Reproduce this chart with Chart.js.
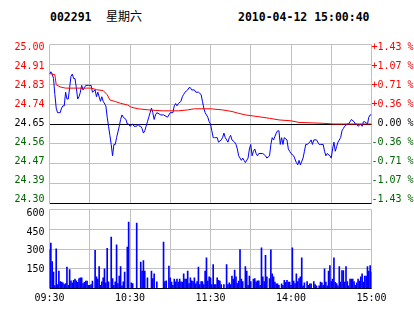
<!DOCTYPE html>
<html lang="zh">
<head>
<meta charset="UTF-8" />
<title>002291 分时走势</title>
<script src="https://cdn.jsdelivr.net/npm/chart.js"></script>
<style>
  html, body { margin: 0; padding: 0; background: #fff; }
  #wrap { position: relative; width: 414px; height: 314px; overflow: hidden; background: #fff; }
  .hd { position: absolute; top: 11px; font: bold 11.5px 'DejaVu Sans Mono', monospace; line-height: 12px; color: #000; white-space: pre; }
  .cn { position: absolute; top: 10px; left: 106px; font: 12px 'Noto Sans CJK SC', sans-serif; line-height: 12px; color: #000; }
  canvas { position: absolute; left: 0; }
</style>
</head>
<body>
<div id="wrap">
  <div class="hd" style="left:50px">002291</div>
  <div class="cn">星期六</div>
  <div class="hd" style="left:238px">2010-04-12 15:00:40</div>
  <canvas id="priceChart" width="414" height="190" style="top:25px"></canvas>
  <canvas id="volChart" width="414" height="119" style="top:195px"></canvas>
</div>

<script>
  // 分钟序号：0 = 09:30，120 = 11:30/13:00，240 = 15:00
  const gridMinutes = [0, 30, 60, 90, 120, 150, 180, 210, 240];
  const timeLabels = ['09:30', '', '10:30', '', '11:30', '', '14:00', '', '15:00'];

  const prevClose = 24.65;
  const priceLevels = [24.30, 24.3875, 24.475, 24.5625, 24.65, 24.7375, 24.825, 24.9125, 25.00];
  const priceLabels = ['24.30', '24.39', '24.47', '24.56', '24.65', '24.74', '24.83', '24.91', '25.00'];
  const pctLabels = ['-1.43 %', '-1.07 %', '-0.71 %', '-0.36 %', ' 0.00 %', '+0.36 %', '+0.71 %', '+1.07 %', '+1.43 %'];

  const volLevels = [0, 150, 300, 450, 600];
  const volLabelLevels = [150, 300, 450, 600];
  const volLabels = ['150', '300', '450', '600'];

  // 成交价
  const priceMinutes = [0, 1, 2, 3, 4, 5, 6, 7, 8, 9, 10, 11, 12, 13, 14, 15, 16, 17, 18, 19,
    20, 21, 22, 23, 24, 25, 26, 27, 29, 31, 32, 34, 35, 36, 38, 39, 40, 42, 43, 44,
    45, 46, 47, 48, 49, 50, 52, 53, 54, 55, 57, 58, 59, 60, 62, 63, 65, 66, 67, 68,
    69, 70, 71, 72, 73, 74, 75, 76, 77, 78, 79, 80, 83, 85, 88, 89, 90, 92, 93, 94,
    95, 96, 98, 99, 100, 101, 103, 104, 105, 106, 108, 109, 111, 113, 114, 115, 116, 118, 119, 120,
    121, 122, 123, 124, 125, 126, 128, 129, 130, 131, 133, 134, 135, 136, 138, 139, 140, 141, 143, 144,
    145, 146, 148, 149, 150, 151, 152, 153, 154, 155, 156, 159, 161, 162, 164, 165, 166, 167, 169, 170,
    171, 172, 173, 174, 175, 177, 178, 179, 180, 182, 184, 185, 186, 187, 189, 190, 191, 192, 194, 195,
    196, 197, 199, 200, 201, 202, 204, 205, 206, 207, 209, 210, 211, 212, 213, 214, 215, 217, 218, 219,
    220, 222, 223, 224, 225, 227, 228, 229, 230, 232, 233, 234, 235, 237, 238, 239, 240];
  const priceValues = [24.87, 24.88, 24.87, 24.85, 24.78, 24.72, 24.70, 24.70, 24.70, 24.72, 24.73, 24.73, 24.79, 24.76, 24.76, 24.81, 24.86, 24.87, 24.85, 24.85,
    24.81, 24.76, 24.77, 24.79, 24.82, 24.80, 24.81, 24.82, 24.82, 24.82, 24.79, 24.80, 24.77, 24.79, 24.75, 24.77, 24.75, 24.73, 24.68, 24.64,
    24.60, 24.56, 24.51, 24.56, 24.56, 24.59, 24.64, 24.67, 24.69, 24.68, 24.67, 24.65, 24.65, 24.64, 24.65, 24.64, 24.64, 24.65, 24.64, 24.64,
    24.63, 24.61, 24.62, 24.64, 24.66, 24.68, 24.70, 24.72, 24.70, 24.67, 24.69, 24.70, 24.69, 24.69, 24.68, 24.69, 24.70, 24.70, 24.73, 24.74,
    24.73, 24.74, 24.75, 24.77, 24.78, 24.79, 24.80, 24.81, 24.81, 24.80, 24.80, 24.79, 24.79, 24.78, 24.75, 24.72, 24.70, 24.68, 24.66, 24.65,
    24.62, 24.59, 24.59, 24.59, 24.59, 24.57, 24.58, 24.59, 24.61, 24.59, 24.57, 24.59, 24.60, 24.58, 24.57, 24.56, 24.54, 24.51, 24.49, 24.50,
    24.49, 24.48, 24.50, 24.54, 24.56, 24.51, 24.53, 24.54, 24.52, 24.51, 24.52, 24.52, 24.51, 24.50, 24.51, 24.56, 24.59, 24.58, 24.61, 24.62,
    24.62, 24.56, 24.59, 24.56, 24.59, 24.58, 24.54, 24.53, 24.52, 24.51, 24.48, 24.47, 24.49, 24.47, 24.50, 24.53, 24.56, 24.56, 24.57, 24.58,
    24.56, 24.58, 24.58, 24.57, 24.56, 24.56, 24.56, 24.53, 24.51, 24.52, 24.51, 24.50, 24.54, 24.57, 24.53, 24.55, 24.57, 24.59, 24.62, 24.63,
    24.64, 24.65, 24.65, 24.66, 24.67, 24.66, 24.65, 24.65, 24.64, 24.65, 24.64, 24.66, 24.66, 24.65, 24.68, 24.69, 24.69];

  // 均价
  const avgMinutes = [0, 4, 5, 8, 12, 31, 35, 40, 43, 45, 49, 53, 58, 61, 66, 74, 84, 96, 103, 108,
    120, 129, 136, 141, 146, 156, 164, 171, 180, 186, 204, 212, 240];
  const avgValues = [24.872, 24.867, 24.823, 24.813, 24.808, 24.808, 24.801, 24.797, 24.779, 24.756, 24.749, 24.741, 24.734, 24.724, 24.717, 24.712, 24.708, 24.708, 24.712, 24.717,
    24.717, 24.712, 24.705, 24.697, 24.690, 24.682, 24.675, 24.668, 24.664, 24.657, 24.653, 24.650, 24.650];

  // 成交量（手）
  const volMinutes = [0, 1, 2, 3, 4, 5, 6, 7, 8, 9, 10, 11, 12, 13, 14, 15, 16, 17, 18, 19,
    20, 21, 22, 23, 24, 25, 26, 27, 28, 29, 30, 31, 32, 34, 35, 36, 37, 38, 39, 40,
    41, 42, 43, 44, 46, 47, 48, 49, 50, 51, 52, 53, 54, 55, 56, 58, 59, 61, 62, 65,
    68, 69, 70, 71, 73, 76, 77, 78, 80, 85, 86, 87, 89, 90, 91, 92, 93, 94, 95, 96,
    97, 98, 99, 100, 101, 102, 103, 104, 105, 106, 107, 108, 109, 110, 111, 112, 113, 114, 115, 116,
    117, 118, 119, 120, 121, 122, 123, 124, 125, 126, 127, 128, 130, 132, 133, 134, 135, 136, 137, 138,
    139, 140, 141, 142, 143, 144, 146, 147, 148, 149, 150, 152, 153, 154, 155, 156, 157, 158, 159, 160,
    161, 162, 164, 165, 166, 167, 168, 169, 170, 171, 173, 174, 175, 176, 177, 178, 179, 180, 181, 182,
    183, 184, 185, 186, 187, 188, 189, 190, 192, 193, 194, 195, 197, 198, 199, 201, 202, 203, 204, 205,
    206, 207, 208, 209, 210, 211, 212, 213, 214, 215, 216, 217, 218, 219, 220, 221, 222, 223, 224, 225,
    226, 227, 228, 229, 230, 231, 232, 233, 234, 235, 236, 237, 238, 239, 240];
  const volValues = [296, 345, 205, 124, 23, 301, 30, 132, 53, 48, 43, 30, 38, 162, 25, 144, 58, 43, 63, 71,
    58, 46, 76, 81, 81, 38, 46, 56, 56, 25, 25, 30, 56, 289, 89, 71, 167, 25, 51, 81,
    149, 43, 306, 51, 390, 76, 25, 51, 331, 38, 94, 167, 20, 51, 124, 314, 504, 43, 38, 496,
    200, 132, 213, 132, 81, 132, 76, 112, 51, 352, 53, 58, 170, 81, 48, 25, 71, 51, 71, 48,
    71, 51, 48, 112, 71, 71, 132, 38, 81, 58, 53, 81, 35, 53, 162, 30, 53, 53, 30, 132,
    233, 56, 89, 81, 30, 182, 30, 30, 81, 63, 56, 30, 30, 182, 30, 43, 30, 94, 71, 140,
    89, 38, 56, 296, 71, 53, 167, 132, 25, 94, 53, 71, 76, 51, 58, 58, 25, 309, 89, 53,
    251, 89, 76, 294, 112, 89, 48, 35, 35, 25, 35, 25, 63, 46, 63, 48, 48, 25, 309, 56,
    38, 112, 53, 76, 89, 233, 20, 43, 53, 25, 35, 35, 53, 30, 20, 20, 48, 43, 25, 149,
    48, 20, 132, 175, 53, 71, 233, 46, 38, 20, 167, 48, 137, 137, 48, 167, 53, 20, 71, 71,
    71, 53, 25, 43, 71, 56, 89, 112, 48, 94, 94, 167, 132, 175, 124];

  const GRID = '#c0c0c0';
  const RED = '#ff0000';
  const GREEN = '#006600';
  const BLUE = '#0000ff';

  Chart.defaults.font.family = "'DejaVu Sans Mono', monospace";
  Chart.defaults.font.size = 10;
  Chart.defaults.color = '#000';

  const setTicks = list => scale => { scale.ticks = list.map(v => ({ value: v })); };
  const near = (a, b) => Math.abs(a - b) < 1e-6;
  const levelColor = v => near(v, prevClose) ? '#000' : (v > prevClose ? RED : GREEN);

  // 标签轴比网格轴略收窄，与原图刻度文字位置一致
  const labelMin = 24.2806, labelMax = 25.0148;

  new Chart(document.getElementById('priceChart'), {
    type: 'line',
    data: {
      datasets: [
        {
          data: avgMinutes.map((m, i) => ({ x: m, y: avgValues[i] })),
          borderColor: RED, borderWidth: 1, pointRadius: 0, tension: 0
        },
        {
          data: priceMinutes.map((m, i) => ({ x: m, y: priceValues[i] })),
          borderColor: BLUE, borderWidth: 1, pointRadius: 0, tension: 0
        }
      ]
    },
    options: {
      responsive: false,
      animation: false,
      layout: { padding: { top: 19.5, bottom: 11.5, left: 0, right: 0 } },
      plugins: { legend: { display: false }, tooltip: { enabled: false } },
      scales: {
        x: {
          type: 'linear', min: 0, max: 240,
          afterBuildTicks: setTicks(gridMinutes),
          ticks: { display: false },
          grid: { color: GRID, drawTicks: false },
          border: { display: false },
          afterFit: s => { s.height = 0; }
        },
        y: {
          min: 24.30, max: 25.00,
          afterBuildTicks: setTicks(priceLevels),
          ticks: { display: false },
          grid: {
            drawTicks: false,
            color: ctx => (near(ctx.tick.value, prevClose) || near(ctx.tick.value, 24.30)) ? '#000' : GRID
          },
          border: { display: false },
          afterFit: s => { s.width = 0; }
        },
        yl: {
          position: 'left', min: labelMin, max: labelMax,
          afterBuildTicks: setTicks(priceLevels),
          ticks: {
            padding: 5, autoSkip: false,
            callback: (v, i) => priceLabels[i],
            color: ctx => levelColor(ctx.tick.value)
          },
          grid: { display: false, drawTicks: false },
          border: { display: false },
          afterFit: s => { s.width = 49.5; }
        },
        yr: {
          position: 'right', min: labelMin, max: labelMax,
          afterBuildTicks: setTicks(priceLevels),
          ticks: {
            padding: 0, autoSkip: false,
            callback: (v, i) => pctLabels[i],
            color: ctx => levelColor(ctx.tick.value)
          },
          grid: { display: false, drawTicks: false },
          border: { display: false },
          afterFit: s => { s.width = 42.5; }
        }
      }
    }
  });

  new Chart(document.getElementById('volChart'), {
    type: 'bar',
    data: {
      datasets: [{
        data: volMinutes.map((m, i) => ({ x: m, y: volValues[i] })),
        backgroundColor: BLUE,
        barThickness: 1
      }]
    },
    options: {
      responsive: false,
      animation: false,
      layout: { padding: { top: 14.5, bottom: 9.5, left: 0, right: 42.5 } },
      plugins: { legend: { display: false }, tooltip: { enabled: false } },
      scales: {
        x: {
          type: 'linear', min: 0, max: 240, offset: false,
          afterBuildTicks: setTicks(gridMinutes),
          ticks: { padding: 4, autoSkip: false, maxRotation: 0, callback: (v, i) => timeLabels[i] },
          grid: { color: GRID, drawTicks: false, offset: false },
          border: { display: false },
          afterFit: s => { s.height = 16; }
        },
        y: {
          min: 0, max: 600,
          afterBuildTicks: setTicks(volLevels),
          ticks: { display: false },
          grid: { drawTicks: false, color: ctx => ctx.tick.value === 0 ? '#000' : GRID },
          border: { display: false },
          afterFit: s => { s.width = 0; }
        },
        yl: {
          position: 'left', min: -3.2, max: 630.2,
          afterBuildTicks: setTicks(volLabelLevels),
          ticks: { padding: 5, autoSkip: false, callback: (v, i) => volLabels[i] },
          grid: { display: false, drawTicks: false },
          border: { display: false },
          afterFit: s => { s.width = 49.5; }
        }
      }
    }
  });
</script>
</body>
</html>
